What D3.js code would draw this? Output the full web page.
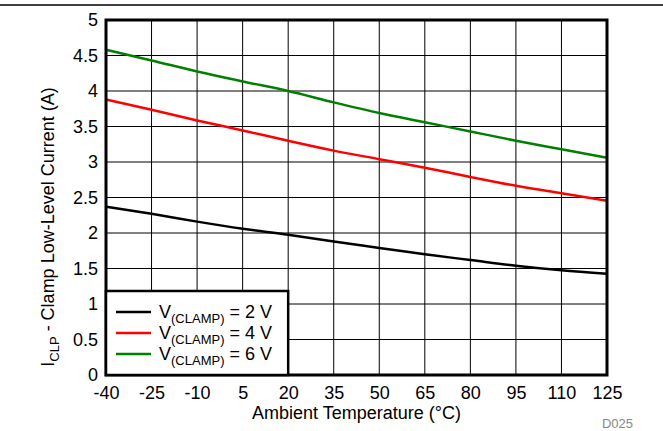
<!DOCTYPE html>
<html><head><meta charset="utf-8">
<script src="https://cdn.jsdelivr.net/npm/d3@7"></script>
<style>html,body{margin:0;padding:0;background:#fff;}svg{display:block;font-family:"Liberation Sans",Arial,sans-serif;}</style>
</head><body>
<svg id="c" width="663" height="431"></svg>
<script>
const temps = [-40,-25,-10,5,20,35,50,65,80,95,110,125];
const clamp2V = [2.37,2.27,2.16,2.06,1.975,1.88,1.79,1.70,1.62,1.54,1.475,1.425];
const clamp4V = [3.88,3.735,3.585,3.445,3.30,3.16,3.04,2.92,2.79,2.665,2.56,2.455];
const clamp6V = [4.58,4.43,4.275,4.135,4.00,3.84,3.69,3.56,3.43,3.30,3.18,3.06];
const seriesNames = ["2 V","4 V","6 V"];
const seriesColors = ["#000000","#ff0000","#008000"];
const xTicks = [-40,-25,-10,5,20,35,50,65,80,95,110,125];
const yTicks = [0,0.5,1,1.5,2,2.5,3,3.5,4,4.5,5];
const xTitle = "Ambient Temperature (°C)";
const figId = "D025";

const svg = d3.select("#c");
const L=106,R=607,T=20,B=375;
const x = d3.scaleLinear().domain([-40,125]).range([L,R]);
const y = d3.scaleLinear().domain([0,5]).range([B,T]);

// top rule
svg.append("line").attr("x1",0).attr("x2",663).attr("y1",5).attr("y2",5).attr("stroke","#000").attr("stroke-width",1.5);

// grid
const g = svg.append("g");
g.selectAll("line.vx").data(xTicks).join("line").attr("x1",d=>x(d)).attr("x2",d=>x(d)).attr("y1",T).attr("y2",B).attr("stroke","#000").attr("stroke-width",1);
g.selectAll("line.hy").data(yTicks).join("line").attr("y1",d=>y(d)).attr("y2",d=>y(d)).attr("x1",L).attr("x2",R).attr("stroke","#000").attr("stroke-width",1);

// axes labels via d3 axes
const xa = svg.append("g").attr("transform",`translate(0,${B})`)
  .call(d3.axisBottom(x).tickValues(xTicks).tickSize(0).tickPadding(11).tickFormat(d=>String(d)));
xa.select(".domain").remove();
xa.selectAll("text").attr("font-size",18).attr("fill","#000").attr("font-family","Liberation Sans, Arial, sans-serif");
const ya = svg.append("g").attr("transform",`translate(${L},0)`)
  .call(d3.axisLeft(y).tickValues(yTicks).tickSize(0).tickPadding(8).tickFormat(d=>String(d)));
ya.select(".domain").remove();
ya.selectAll("text").attr("font-size",18).attr("fill","#000").attr("font-family","Liberation Sans, Arial, sans-serif");

// curves
const data = [clamp2V,clamp4V,clamp6V];
const line = d3.line().x((d,i)=>x(temps[i])).y(d=>y(d)).curve(d3.curveMonotoneX);
svg.append("g").selectAll("path").data(data).join("path")
  .attr("d",d=>line(d)).attr("fill","none").attr("stroke",(d,i)=>seriesColors[i]).attr("stroke-width",2.5);

// frame
svg.append("rect").attr("x",L).attr("y",T).attr("width",R-L).attr("height",B-T).attr("fill","none").attr("stroke","#000").attr("stroke-width",3);

// legend
const lg = svg.append("g");
lg.append("rect").attr("x",L).attr("y",291).attr("width",x(20)-L).attr("height",B-291).attr("fill","#fff").attr("stroke","#000").attr("stroke-width",2.5);
seriesNames.forEach((n,i)=>{
  const yy = 312 + i*21;
  lg.append("line").attr("x1",116).attr("x2",151).attr("y1",yy).attr("y2",yy).attr("stroke",seriesColors[i]).attr("stroke-width",2.5);
  const t = lg.append("text").attr("x",159).attr("y",yy+6).attr("font-size",18).attr("fill","#000");
  t.append("tspan").text("V");
  t.append("tspan").attr("font-size",13).attr("dy",5).text("(CLAMP)");
  t.append("tspan").attr("dy",-5).text(" = "+n);
});

// axis titles
svg.append("text").attr("x",(L+R)/2).attr("y",419).attr("text-anchor","middle").attr("font-size",18).attr("fill","#000").text(xTitle);
const yt = svg.append("text").attr("transform",`translate(54,227) rotate(-90)`).attr("text-anchor","middle").attr("font-size",18).attr("fill","#000");
yt.append("tspan").text("I");
yt.append("tspan").attr("font-size",13).attr("dy",5).text("CLP");
yt.append("tspan").attr("dy",-5).text(" - Clamp Low-Level Current (A)");

svg.append("text").attr("x",633).attr("y",428).attr("text-anchor","end").attr("font-size",13).attr("fill","#888").text(figId);
</script>
</body></html>
